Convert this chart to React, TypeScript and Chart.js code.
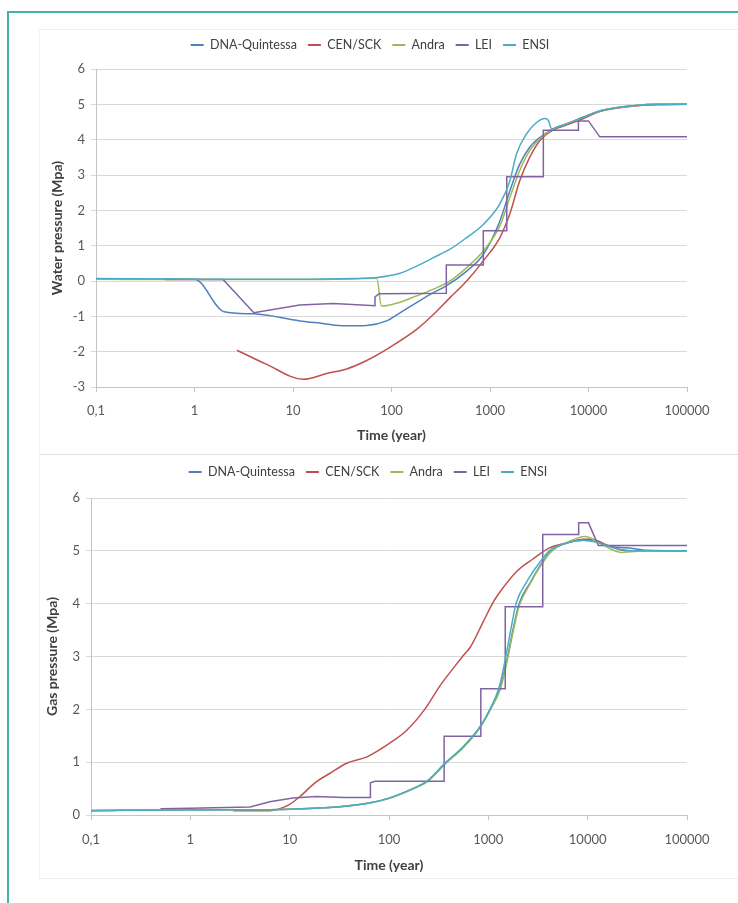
import React, { useEffect, useRef } from "react";
import { Chart, registerables } from "chart.js";

Chart.register(...registerables);

// ---------- shared ----------
const SERIES_NAMES = ["DNA-Quintessa", "CEN/SCK", "Andra", "LEI", "ENSI"];
const SERIES_COLORS = ["#4f81bd", "#c0504d", "#9bbb59", "#8064a2", "#4bacc6"];
const X_TICK_VALUES = [0.1, 1, 10, 100, 1000, 10000, 100000];
const X_TICK_LABELS = ["0,1", "1", "10", "100", "1000", "10000", "100000"];
const X_TITLE = "Time (year)";

// ---------- water pressure (top) ----------
const W_DNA_T = [0.1, 0.3, 1, 2, 4, 11.7, 20, 34, 56, 89, 122, 180, 266, 360, 580, 855, 1260, 1590, 2000, 2520, 3200, 4350, 6050, 8900, 13200, 28400, 53000, 100000];
const W_DNA_P = [0.05, 0.05, 0.05, -0.87, -0.93, -1.13, -1.2, -1.27, -1.26, -1.13, -0.9, -0.61, -0.33, -0.14, 0.28, 0.75, 1.7, 2.55, 3.3, 3.78, 4.06, 4.3, 4.45, 4.64, 4.82, 4.96, 5.0, 5.0];
const W_CEN_T = [2.7, 5.4, 12.7, 21.9, 35, 56, 97, 180, 266, 393, 580, 855, 1260, 1590, 2000, 2520, 3200, 4350, 6050, 8900, 13200, 28400, 53000, 100000];
const W_CEN_P = [-1.96, -2.36, -2.78, -2.62, -2.49, -2.25, -1.87, -1.37, -0.95, -0.47, 0.0, 0.57, 1.23, 1.9, 2.83, 3.49, 3.97, 4.27, 4.42, 4.6, 4.8, 4.95, 4.99, 5.0];
const W_ANDRA_T = [0.1, 1, 10, 40, 71, 79, 122, 180, 266, 393, 580, 855, 1260, 1590, 2000, 2520, 3200, 4350, 6050, 8900, 13200, 28400, 53000, 100000];
const W_ANDRA_P = [0.05, 0.04, 0.04, 0.06, 0.08, -0.71, -0.6, -0.42, -0.23, 0.0, 0.38, 0.85, 1.56, 2.36, 3.12, 3.68, 4.02, 4.3, 4.45, 4.64, 4.82, 4.96, 5.0, 5.0];
const W_LEI_T = [0.5, 1.95, 4, 11.7, 25.7, 68, 68, 75, 360, 360, 855, 855, 1480, 1480, 3480, 3480, 7900, 7900, 10000, 13000, 100000];
const W_LEI_P = [0.04, 0.04, -0.9, -0.68, -0.64, -0.7, -0.45, -0.36, -0.35, 0.45, 0.45, 1.42, 1.42, 2.95, 2.95, 4.27, 4.27, 4.53, 4.53, 4.08, 4.08];
const W_ENSI_T = [0.1, 1, 10, 40, 71, 122, 180, 266, 393, 580, 855, 1260, 1590, 1860, 2340, 2950, 3600, 3900, 4240, 4800, 6050, 8900, 13200, 28400, 53000, 100000];
const W_ENSI_P = [0.07, 0.05, 0.05, 0.07, 0.1, 0.22, 0.42, 0.66, 0.9, 1.23, 1.6, 2.18, 2.83, 3.6, 4.16, 4.48, 4.6, 4.55, 4.3, 4.35, 4.45, 4.64, 4.82, 4.96, 5.0, 5.0];

// ---------- gas pressure (bottom) ----------
const G_DNA_T = [0.1, 1, 4, 10, 30, 65, 100, 174, 240, 376, 563, 830, 1040, 1320, 1563, 1790, 2040, 2640, 3320, 4270, 6150, 9100, 12400, 17000, 25000, 40000, 100000];
const G_DNA_P = [0.08, 0.1, 0.1, 0.11, 0.15, 0.23, 0.32, 0.5, 0.63, 1.0, 1.29, 1.67, 2.0, 2.42, 3.0, 3.55, 4.0, 4.4, 4.72, 5.0, 5.15, 5.2, 5.17, 5.08, 5.06, 5.01, 5.0];
const G_CEN_T = [2.7, 6.3, 8, 10, 12.7, 18.6, 25.5, 37.5, 60, 100, 150, 229, 327, 480, 550, 660, 900, 1100, 1230, 1950, 2830, 4180, 6200, 9000, 11000, 16000, 25000, 100000];
const G_CEN_P = [0.08, 0.08, 0.12, 0.2, 0.35, 0.63, 0.79, 0.98, 1.1, 1.35, 1.6, 2.0, 2.45, 2.86, 3.0, 3.18, 3.68, 4.0, 4.15, 4.62, 4.85, 5.06, 5.15, 5.22, 5.22, 5.1, 5.0, 5.0];
const G_ANDRA_T = [0.1, 1, 4, 10, 30, 65, 100, 174, 240, 376, 563, 830, 1040, 1320, 1563, 1790, 2040, 2640, 3320, 4270, 6150, 9500, 13000, 22000, 40000, 100000];
const G_ANDRA_P = [0.09, 0.1, 0.1, 0.11, 0.15, 0.23, 0.31, 0.49, 0.62, 0.98, 1.28, 1.66, 1.98, 2.38, 2.95, 3.5, 3.95, 4.38, 4.7, 4.98, 5.16, 5.27, 5.15, 4.97, 5.0, 5.0];
const G_LEI_T = [0.5, 1, 4, 6.3, 10.8, 18.6, 35, 65, 65, 72, 359, 359, 840, 840, 1480, 1480, 3530, 3530, 8120, 8120, 10200, 12800, 100000];
const G_LEI_P = [0.12, 0.13, 0.15, 0.25, 0.32, 0.35, 0.33, 0.33, 0.61, 0.64, 0.64, 1.49, 1.49, 2.39, 2.39, 3.94, 3.94, 5.31, 5.31, 5.53, 5.53, 5.1, 5.1];
const G_ENSI_T = [0.1, 1, 4, 10, 30, 65, 100, 174, 240, 376, 563, 830, 1040, 1300, 1500, 1700, 1900, 2500, 3200, 4100, 6000, 9000, 12500, 18000, 30000, 100000];
const G_ENSI_P = [0.08, 0.1, 0.1, 0.11, 0.15, 0.23, 0.32, 0.5, 0.64, 1.0, 1.3, 1.68, 2.0, 2.45, 3.0, 3.55, 4.0, 4.45, 4.75, 5.0, 5.14, 5.2, 5.16, 5.06, 5.0, 5.0];

// ---------- styling ----------
const FONT = "Lato, 'Open Sans', sans-serif";
const GRID = "#d9d9d9";
const AXIS = "#c4c4c4";
const TICK_COLOR = "#595959";
const TEXT_COLOR = "#404040";
const CANVAS_W = 738;
const LEG_FONT = 12.5;
const LEG_PAD = 11;
const TICK_FONT_X = 13;
const TICK_FONT_Y = 13;
const TITLE_FONT = 14;

type Area = { left: number; top: number; right: number; bottom: number };
type Spec = {
  series: { t: number[]; v: number[] }[];
  yMin: number;
  yMax: number;
  yTitle: string;
  height: number;
  area: Area;
  legendCenterY: number;
  legendCenterX: number;
  yTitleX: number;
  xLabelY: number;
  xTitleY: number;
};

function pts(t: number[], v: number[]) {
  return t.map((x, i) => ({ x, y: v[i] }));
}

function makeConfig(spec: Spec): any {
  const { area } = spec;
  const padTop = spec.legendCenterY - LEG_PAD - LEG_FONT / 2;
  const legendH = area.top - padTop;
  const xH = spec.height - area.bottom;
  const tickLH = TICK_FONT_X * 1.2;
  const titleLH = TITLE_FONT * 1.2;
  const xTickPad = spec.xLabelY - area.bottom - 5 - tickLH / 2;
  const xTitlePadBottom = spec.height - spec.xTitleY - titleLH / 2;
  const yTitlePadTop = spec.yTitleX - titleLH / 2;

  const datasets = spec.series.map((s, i) => ({
    label: SERIES_NAMES[i],
    data: pts(s.t, s.v),
    borderColor: SERIES_COLORS[i],
    backgroundColor: SERIES_COLORS[i],
    borderWidth: 1.5,
    pointRadius: 0,
    pointHoverRadius: 0,
    fill: false,
    order: 4 - i,
    tension: i === 3 ? 0 : 0.4,
    cubicInterpolationMode: i === 3 ? "default" : "monotone",
  }));

  const fixPlugin = {
    id: "fixLegend",
    afterInit(chart: any) {
      const lg = chart.legend;
      const orig = lg.fit;
      lg.fit = function () {
        orig.call(this);
        this.height = legendH;
      };
    },
    afterLayout(chart: any) {
      const lg = chart.legend;
      lg.left = spec.legendCenterX - 320;
      lg.right = spec.legendCenterX + 320;
    },
  };

  return {
    type: "line",
    data: { datasets },
    options: {
      responsive: false,
      animation: false,
      devicePixelRatio: 1,
      layout: { padding: { left: 0, right: CANVAS_W - area.right, top: padTop, bottom: 0 } },
      plugins: {
        legend: {
          display: true,
          position: "top",
          labels: {
            font: { family: FONT, size: LEG_FONT },
            color: TEXT_COLOR,
            boxWidth: 13,
            boxHeight: 2,
            padding: LEG_PAD,
            sort: (a: any, b: any) => a.datasetIndex - b.datasetIndex,
            generateLabels: (chart: any) =>
              (Chart.defaults.plugins.legend.labels as any)
                .generateLabels(chart)
                .map((l: any) => ({ ...l, lineWidth: 0 })),
          },
        },
        tooltip: { enabled: false },
      },
      scales: {
        x: {
          type: "logarithmic",
          min: 0.1,
          max: 100000,
          afterBuildTicks: (s: any) => {
            s.ticks = X_TICK_VALUES.map((v) => ({ value: v }));
          },
          afterFit: (s: any) => {
            s.height = xH;
          },
          ticks: {
            autoSkip: false,
            maxRotation: 0,
            minRotation: 0,
            padding: xTickPad,
            color: TICK_COLOR,
            font: { family: FONT, size: TICK_FONT_X },
            callback: (_v: any, i: number) => X_TICK_LABELS[i],
          },
          grid: { drawOnChartArea: false, drawTicks: true, tickLength: 5, color: AXIS },
          border: { display: true, color: AXIS },
          title: {
            display: true,
            text: X_TITLE,
            color: TEXT_COLOR,
            font: { family: FONT, size: TITLE_FONT, weight: "bold" },
            padding: { top: 0, bottom: xTitlePadBottom },
          },
        },
        y: {
          type: "linear",
          min: spec.yMin,
          max: spec.yMax,
          afterFit: (s: any) => {
            s.width = area.left;
          },
          ticks: {
            stepSize: 1,
            padding: 6,
            color: TICK_COLOR,
            font: { family: FONT, size: TICK_FONT_Y },
          },
          grid: { color: GRID, drawTicks: true, tickLength: 5 },
          border: { display: true, color: AXIS },
          title: {
            display: true,
            text: spec.yTitle,
            color: TEXT_COLOR,
            font: { family: FONT, size: TITLE_FONT, weight: "bold" },
            padding: { top: yTitlePadTop, bottom: 0 },
          },
        },
      },
    },
    plugins: [fixPlugin],
  };
}

const WATER_SPEC: Spec = {
  series: [
    { t: W_DNA_T, v: W_DNA_P },
    { t: W_CEN_T, v: W_CEN_P },
    { t: W_ANDRA_T, v: W_ANDRA_P },
    { t: W_LEI_T, v: W_LEI_P },
    { t: W_ENSI_T, v: W_ENSI_P },
  ],
  yMin: -3,
  yMax: 6,
  yTitle: "Water pressure (Mpa)",
  height: 430,
  area: { left: 96, top: 49, right: 687, bottom: 367 },
  legendCenterY: 25,
  legendCenterX: 370,
  yTitleX: 57,
  xLabelY: 391,
  xTitleY: 415,
};

const GAS_SPEC: Spec = {
  series: [
    { t: G_DNA_T, v: G_DNA_P },
    { t: G_CEN_T, v: G_CEN_P },
    { t: G_ANDRA_T, v: G_ANDRA_P },
    { t: G_LEI_T, v: G_LEI_P },
    { t: G_ENSI_T, v: G_ENSI_P },
  ],
  yMin: 0,
  yMax: 6,
  yTitle: "Gas pressure (Mpa)",
  height: 430,
  area: { left: 91, top: 46, right: 687, bottom: 363 },
  legendCenterY: 20,
  legendCenterX: 368,
  yTitleX: 52,
  xLabelY: 388,
  xTitleY: 413,
};

function Panel({ spec, top }: { spec: Spec; top: number }) {
  const ref = useRef<HTMLCanvasElement>(null);
  useEffect(() => {
    if (!ref.current) return;
    const chart = new Chart(ref.current, makeConfig(spec));
    return () => chart.destroy();
  }, [spec]);
  return (
    <canvas
      ref={ref}
      width={CANVAS_W}
      height={spec.height}
      style={{ position: "absolute", left: 0, top, width: CANVAS_W, height: spec.height }}
    />
  );
}

export default function App() {
  return (
    <div
      style={{
        position: "absolute",
        left: 0,
        top: 0,
        width: 738,
        height: 903,
        overflow: "hidden",
        background: "#ffffff",
      }}
    >
      <div
        style={{
          position: "absolute",
          left: 7,
          top: 11,
          width: 780,
          height: 940,
          border: "2px solid #41b4a6",
          boxSizing: "border-box",
        }}
      />
      <div style={{ position: "absolute", left: 39, top: 29, width: 699, height: 1, background: "#efefef" }} />
      <div style={{ position: "absolute", left: 39, top: 454, width: 699, height: 1, background: "#dedede" }} />
      <div style={{ position: "absolute", left: 39, top: 878, width: 699, height: 1, background: "#efefef" }} />
      <div style={{ position: "absolute", left: 39, top: 29, width: 1, height: 849, background: "#f4f4f4" }} />
      <Panel spec={WATER_SPEC} top={20} />
      <Panel spec={GAS_SPEC} top={452} />
    </div>
  );
}
